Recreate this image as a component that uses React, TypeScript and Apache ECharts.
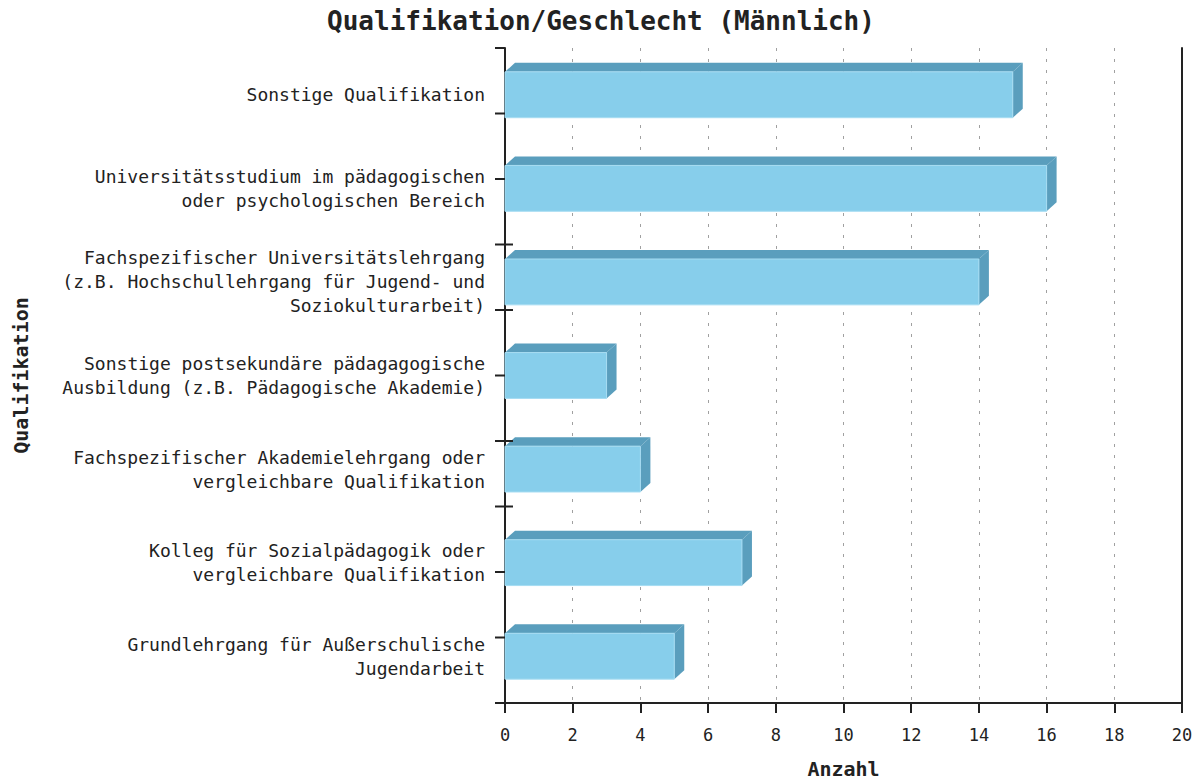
import React, { useEffect, useRef } from "react";
import * as echarts from "echarts";

const titleText = "Qualifikation/Geschlecht (Männlich)";
const xAxisName = "Anzahl";
const yAxisName = "Qualifikation";

const categories: string[] = [
  "Sonstige Qualifikation",
  "Universitätsstudium im pädagogischen\noder psychologischen Bereich",
  "Fachspezifischer Universitätslehrgang\n(z.B. Hochschullehrgang für Jugend- und\nSoziokulturarbeit)",
  "Sonstige postsekundäre pädagagogische\nAusbildung (z.B. Pädagogische Akademie)",
  "Fachspezifischer Akademielehrgang oder\nvergleichbare Qualifikation",
  "Kolleg für Sozialpädagogik oder\nvergleichbare Qualifikation",
  "Grundlehrgang für Außerschulische\nJugendarbeit",
];

const values: number[] = [15, 16, 14, 3, 4, 7, 5];

const xMin = 0;
const xMax = 20;
const xInterval = 2;

// vertical tick scale of the left axis (10 equal steps), and the steps whose tick crosses the axis
const tickMin = 0;
const tickMax = 10;
const tickSteps: number[] = [0, 1, 2, 3, 4, 5, 6, 7, 8, 9, 10];
const crossingTicks: number[] = [3, 4, 6, 7];

const FONT = "'DejaVu Sans Mono', 'Liberation Mono', monospace";
const FRONT = "#87CEEB";
const DARK = "#5A9EBD";
const INK = "#222222";

export default function App() {
  const ref = useRef<HTMLDivElement>(null);

  useEffect(() => {
    if (!ref.current) return;
    const chart = echarts.init(ref.current, null, { renderer: "svg" });

    const data = values.map((v, i) => [v, i]);
    const tickData = tickSteps.map((t) => [t, crossingTicks.indexOf(t) >= 0 ? 1 : 0]);

    const option: any = {
      animation: false,
      backgroundColor: "#ffffff",
      title: {
        text: titleText,
        left: "center",
        top: 8,
        padding: 0,
        textStyle: { fontFamily: FONT, fontWeight: "bold", fontSize: 26, color: INK },
      },
      grid: { left: 505, right: 20, top: 48, bottom: 77, containLabel: false },
      xAxis: {
        type: "value",
        min: xMin,
        max: xMax,
        interval: xInterval,
        name: xAxisName,
        nameLocation: "middle",
        nameGap: 56,
        nameTextStyle: { fontFamily: FONT, fontWeight: "bold", fontSize: 20, color: INK },
        axisLine: { show: true, lineStyle: { color: INK, width: 2 } },
        axisTick: { show: true, length: 10, lineStyle: { color: INK, width: 2 } },
        axisLabel: { fontFamily: FONT, fontSize: 17, color: INK, margin: 23 },
        splitLine: { show: true, lineStyle: { color: "#a0a0a0", width: 1, type: [3, 8] } },
      },
      yAxis: [
        {
          type: "category",
          data: categories,
          inverse: true,
          position: "left",
          name: yAxisName,
          nameLocation: "middle",
          nameGap: 474,
          nameTextStyle: { fontFamily: FONT, fontWeight: "bold", fontSize: 20, color: INK },
          axisLine: { show: true, lineStyle: { color: INK, width: 2 } },
          axisTick: { show: false },
          axisLabel: { fontFamily: FONT, fontSize: 18, color: INK, margin: 20, lineHeight: 24, align: "right" },
          splitLine: { show: false },
        },
        {
          type: "value",
          min: tickMin,
          max: tickMax,
          interval: 1,
          position: "left",
          axisLine: { show: false },
          axisTick: { show: false },
          axisLabel: { show: false },
          splitLine: { show: false },
        },
        {
          type: "value",
          min: tickMin,
          max: tickMax,
          interval: 1,
          position: "right",
          axisLine: { show: true, lineStyle: { color: INK, width: 2 } },
          axisTick: { show: false },
          axisLabel: { show: false },
          splitLine: { show: false },
        },
      ],
      series: [
        {
          type: "custom",
          xAxisIndex: 0,
          yAxisIndex: 0,
          encode: { x: 0, y: 1 },
          data,
          renderItem: (params: any, api: any) => {
            const v = api.value(0);
            const idx = api.value(1);
            const end = api.coord([v, idx]);
            const start = api.coord([0, idx]);
            const band = api.size([0, 1])[1];
            const h = band * 0.49;
            const yTop = end[1] - h / 2;
            const yBot = end[1] + h / 2;
            const x0 = start[0];
            const x1 = end[0];
            const dx = 10;
            const dy = 9;
            return {
              type: "group",
              children: [
                { type: "polygon", shape: { points: [[x0, yTop], [x0 + dx, yTop - dy], [x1 + dx, yTop - dy], [x1, yTop]] }, style: { fill: DARK } },
                { type: "polygon", shape: { points: [[x1, yTop], [x1 + dx, yTop - dy], [x1 + dx, yBot - dy], [x1, yBot]] }, style: { fill: DARK } },
                { type: "rect", shape: { x: x0, y: yTop, width: x1 - x0, height: yBot - yTop }, style: { fill: FRONT, stroke: "#a6dcf2", lineWidth: 1 } },
              ],
            };
          },
        },
        {
          type: "custom",
          xAxisIndex: 0,
          yAxisIndex: 1,
          encode: { y: 0 },
          data: tickData,
          silent: true,
          clip: false,
          z: 5,
          renderItem: (params: any, api: any) => {
            const p = api.coord([0, api.value(0)]);
            const cross = api.value(1) === 1;
            return {
              type: "line",
              shape: { x1: p[0] - 10, y1: p[1], x2: p[0] + (cross ? 8 : 0), y2: p[1] },
              style: { stroke: INK, lineWidth: 2 },
            };
          },
        },
      ],
    };

    chart.setOption(option);
    return () => chart.dispose();
  }, []);

  return <div ref={ref} style={{ position: "fixed", left: 0, top: 0, width: 1202, height: 784, background: "#fff" }} />;
}
